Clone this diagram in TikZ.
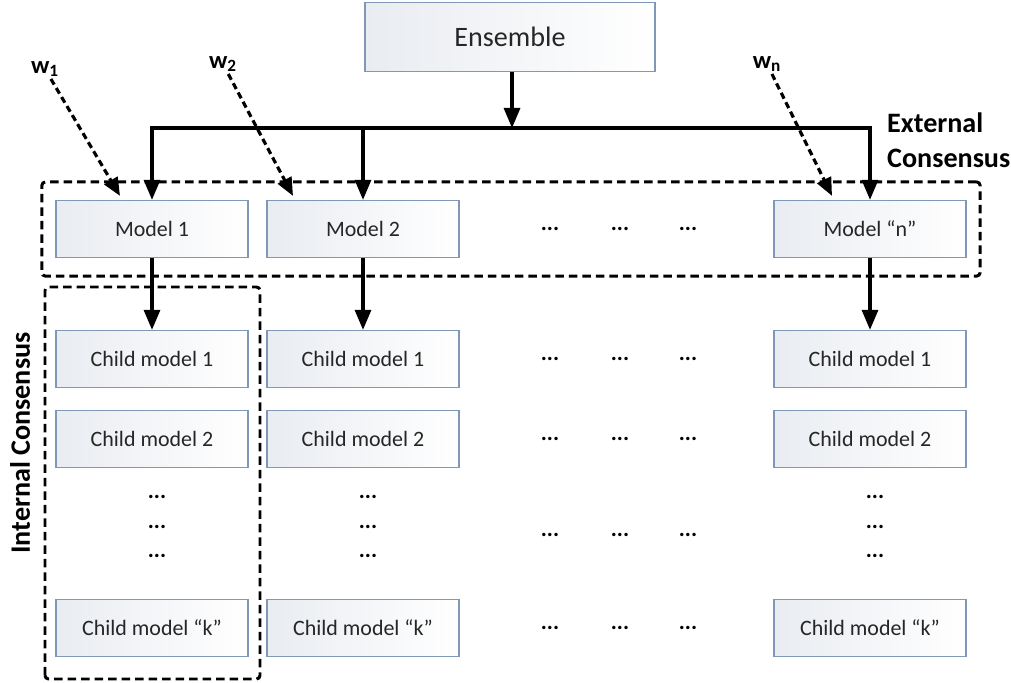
\documentclass[tikz,border=0pt]{standalone}
\usepackage{fontspec}
\setmainfont{Carlito}
\usetikzlibrary{arrows.meta,fit}

\definecolor{boxline}{RGB}{128,152,184}
\definecolor{boxgray}{RGB}{233,236,241}

\tikzset{
  box/.style={draw=boxline, line width=0.7pt, shading=axis, shading angle=-90,
    left color=boxgray, right color=white,
    minimum width=3.84cm, minimum height=1.14cm, text=black!85,
    font=\fontsize{12.5}{15}\selectfont},
  dots/.style={font=\fontsize{13}{15}\selectfont\bfseries, inner sep=0pt},
  arr/.style={line width=1.8pt, -{Triangle[length=0.4cm,width=0.32cm]}},
  warr/.style={line width=1.8pt, dash pattern=on 0.13cm off 0.08cm,
    -{Triangle[length=0.36cm,width=0.3cm]}},
  group/.style={draw, line width=1.7pt, dash pattern=on 0.17cm off 0.1cm, rounded corners=2pt},
  lab/.style={font=\fontsize{16}{20}\selectfont\bfseries},
  wlab/.style={font=\fontsize{14}{16}\selectfont\bfseries, inner sep=1pt}
}

\begin{document}
\begin{tikzpicture}
    \useasboundingbox (0,0) rectangle (20.22,13.64);

    \node[box, minimum width=5.8cm, minimum height=1.38cm, font=\fontsize{16}{19}\selectfont] (ens) at (10.2,12.9) {Ensemble};

    \node[box] (m1) at (3.04,9.06) {Model 1};
    \node[box] (m2) at (7.26,9.06) {Model 2};
    \node[box] (mn) at (17.4,9.06) {Model ``n''};

    % child models under each model
    \foreach \col/\x in {1/3.04, 2/7.26, n/17.4} {
        \node[box] (c\col-1) at (\x,6.46) {Child model 1};
        \node[box] (c\col-2) at (\x,4.86) {Child model 2};
        \node[box] (c\col-k) at (\x,1.08) {Child model ``k''};
        \node[dots] (d\col-1) at (\x+0.1,3.7) {...};
        \node[dots] (d\col-2) at (\x+0.1,3.1) {...};
        \node[dots] (d\col-3) at (\x+0.1,2.52) {...};
    }
    \foreach \y [count=\r] in {9.06,6.46,4.86,2.94,1.08}
        \foreach \x [count=\c] in {11.0,12.4,13.76}
            \node[dots] (g\r\c) at (\x,\y) {...};

    \coordinate (hub) at (10.24,11.08);
    \draw[arr] (ens.south -| hub) -- (hub);
    \draw[arr] (hub) -| (m1);
    \draw[arr] (hub) -| (m2);
    \draw[arr] (hub) -| (mn);
    \draw[arr] (m1) -- (c1-1);
    \draw[arr] (m2) -- (c2-1);
    \draw[arr] (mn) -- (cn-1);

    \node[wlab] (w1) at (0.9,12.26) {w\textsubscript{1}};
    \node[wlab] (w2) at (4.46,12.36) {w\textsubscript{2}};
    \node[wlab] (wn) at (15.34,12.36) {w\textsubscript{n}};
    \draw[warr] (w1) -- ([xshift=-0.64cm,yshift=0.08cm]m1.north);
    \draw[warr] (w2) -- ([xshift=-1.4cm,yshift=0.08cm]m2.north);
    \draw[warr] (wn) -- ([xshift=-0.76cm,yshift=0.08cm]mn.north);

    \node[group, fit=(m1)(mn), inner xsep=0.27cm, inner ysep=0.36cm] (ext) {};
    \draw[group] (0.9,0.06) rectangle (5.2,7.9);

    \node[lab, align=left, anchor=west] (extlab) at (17.62,10.84) {External\\Consensus};
    \node[lab, rotate=90] (intlab) at (0.4,4.78) {Internal Consensus};
\end{tikzpicture}
\end{document}
